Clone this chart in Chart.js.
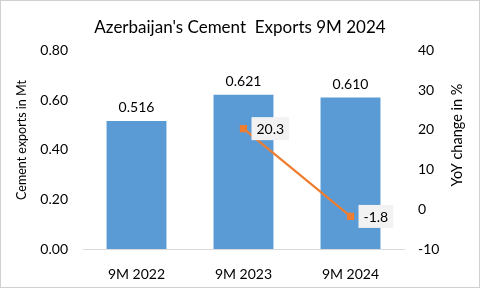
<!DOCTYPE html>
<html>
<head>
<meta charset="utf-8">
<script src="https://cdn.jsdelivr.net/npm/chart.js@4.4.1/dist/chart.umd.min.js"></script>
<style>
  body { margin: 0; background: #fff; }
  #wrap { width: 480px; height: 288px; }
</style>
</head>
<body>
<div id="wrap"><canvas id="c" width="480" height="288"></canvas></div>
<script>
// chart data
const categories = ["9M 2022", "9M 2023", "9M 2024"];
const exportsMt = [0.516, 0.621, 0.610];
const yoyChange = [null, 20.3, -1.8];
const leftTitle = "Cement exports in Mt";
const rightTitle = "YoY change in %";

const FONT = "Lato, 'Open Sans', sans-serif";

// value labels above bars + boxed labels next to line points
const labelPlugin = {
  id: "labels",
  afterDatasetsDraw(chart) {
    const ctx = chart.ctx;
    ctx.save();
    ctx.font = "14px " + FONT;
    ctx.fillStyle = "#000";

    // bars
    chart.getDatasetMeta(0).data.forEach((bar, i) => {
      ctx.textAlign = "center";
      ctx.textBaseline = "bottom";
      ctx.fillText(exportsMt[i].toFixed(3), bar.x, bar.y - 6);
    });

    // line points
    chart.getDatasetMeta(1).data.forEach((pt, i) => {
      if (yoyChange[i] === null) return;
      let txt = yoyChange[i].toFixed(1);
      let w = ctx.measureText(txt).width + 10;
      let h = 23;
      let bx = pt.x + 8;
      let by = pt.y - h / 2;
      ctx.fillStyle = "#f2f2f2";
      ctx.fillRect(bx, by, w, h);
      ctx.fillStyle = "#000";
      ctx.textAlign = "left";
      ctx.textBaseline = "middle";
      ctx.fillText(txt, bx + 5, pt.y + 1);
    });
    ctx.restore();
  },
  afterDraw(chart) {
    const ctx = chart.ctx;
    ctx.save();

    // axis titles, both read bottom-to-top like Excel
    ctx.fillStyle = "#000";
    ctx.textAlign = "center";
    ctx.textBaseline = "middle";
    [[22, 140, 12.5, leftTitle], [457, 135, 14.5, rightTitle]].forEach(([x, y, size, txt]) => {
      ctx.save();
      ctx.font = size + "px " + FONT;
      ctx.translate(x, y);
      ctx.rotate(-Math.PI / 2);
      ctx.fillText(txt, 0, 0);
      ctx.restore();
    });

    // outer frame
    ctx.strokeStyle = "#d0d0d0";
    ctx.lineWidth = 1;
    ctx.strokeRect(0.5, 0.5, chart.width - 1, chart.height - 1);
    ctx.restore();
  }
};

new Chart(document.getElementById("c"), {
  data: {
    labels: categories,
    datasets: [
      {
        type: "bar",
        data: exportsMt,
        backgroundColor: "#5b9bd5",
        barPercentage: 0.56,
        categoryPercentage: 1,
        yAxisID: "y",
        order: 2
      },
      {
        type: "line",
        data: yoyChange,
        borderColor: "#ed7d31",
        backgroundColor: "#ed7d31",
        borderWidth: 2.25,
        pointStyle: "rect",
        pointRadius: 3.5,
        yAxisID: "y1",
        order: 1
      }
    ]
  },
  options: {
    responsive: false,
    animation: false,
    layout: { padding: 0 },
    plugins: {
      legend: { display: false },
      tooltip: { enabled: false },
      title: {
        display: true,
        text: "Azerbaijan's Cement  Exports 9M 2024",
        color: "#000",
        font: { family: FONT, size: 17, weight: "normal" },
        padding: { top: 17, bottom: 13 }
      }
    },
    scales: {
      x: {
        grid: { display: false },
        border: { color: "#d9d9d9" },
        ticks: { color: "#000", font: { family: FONT, size: 14 }, padding: 9 },
        afterFit: s => { s.height = 39; }
      },
      y: {
        position: "left",
        min: 0,
        max: 0.8,
        ticks: {
          stepSize: 0.2,
          color: "#000",
          font: { family: FONT, size: 14 },
          padding: 15,
          callback: v => v.toFixed(2)
        },
        grid: { display: false, drawTicks: false },
        border: { display: false },
        afterFit: s => { s.width = 83; }
      },
      y1: {
        position: "right",
        min: -10,
        max: 40,
        ticks: {
          stepSize: 10,
          color: "#000",
          font: { family: FONT, size: 14 },
          padding: 14
        },
        grid: { display: false, drawTicks: false },
        border: { display: false },
        afterFit: s => { s.width = 76; }
      }
    }
  },
  plugins: [labelPlugin]
});
</script>
</body>
</html>
